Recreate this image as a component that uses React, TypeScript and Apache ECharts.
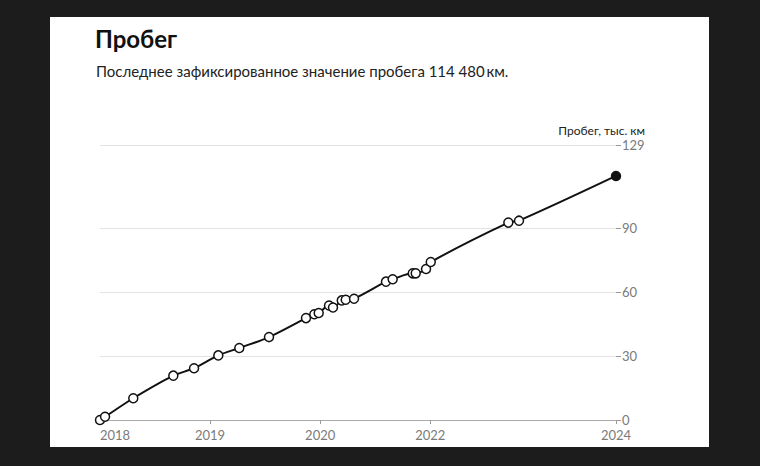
import React, { useEffect, useRef } from "react";
import * as echarts from "echarts";

const titleText = "Пробег";
const subtitleText = "Последнее зафиксированное значение пробега 114\u202F480\u2009км.";
const yAxisName = "Пробег, тыс. км";

// decimal-year positions of the readings
const readingYears = [
  2018.0, 2018.061, 2018.403, 2018.888, 2019.139, 2019.433, 2019.687, 2020.047,
  2020.495, 2020.596, 2020.649, 2020.774, 2020.822, 2020.928, 2020.976, 2021.077,
  2021.464, 2021.545, 2021.788, 2021.824, 2021.949, 2022.006, 2022.946, 2023.075,
  2024.25,
];
// mileage, thousand km
const mileage = [
  0.0, 1.5, 10.2, 20.8, 24.3, 30.3, 33.8, 38.9,
  47.8, 49.6, 50.2, 53.7, 52.8, 56.1, 56.4, 56.9,
  64.9, 66.0, 68.8, 68.8, 70.8, 74.1, 92.6, 93.5,
  114.48,
];

const xTickValues = [2018, 2019.333, 2020.667, 2022, 2024.25];
const xTickLabels = ["2018", "2019", "2020", "2022", "2024"];
const yTickValues = [0, 30, 60, 90, 129];

const FONT = "Lato, 'Noto Sans', sans-serif";

export default function App() {
  const ref = useRef<HTMLDivElement>(null);
  useEffect(() => {
    document.body.style.margin = "0";
    const chart = echarts.init(ref.current!, null, { renderer: "svg" });
    const last = readingYears.length - 1;
    const data = readingYears.map((x, i) =>
      i === last
        ? { value: [x, mileage[i]], itemStyle: { color: "#111", borderColor: "#111" } }
        : { value: [x, mileage[i]] }
    );
    chart.setOption({
      animation: false,
      textStyle: { fontFamily: FONT },
      title: [
        {
          text: titleText,
          left: 45,
          top: 9,
          padding: 0,
          textStyle: { fontFamily: FONT, fontSize: 24, fontWeight: "bold", color: "#111" },
        },
        {
          text: subtitleText,
          left: 46,
          top: 46,
          padding: 0,
          textStyle: { fontFamily: FONT, fontSize: 15, fontWeight: "normal", color: "#222" },
        },
      ],
      graphic: [
        {
          type: "text",
          right: 64,
          top: 107,
          style: { text: yAxisName, fontFamily: FONT, fontSize: 12, lineHeight: 13, fill: "#222" },
        },
      ],
      grid: { left: 50, right: 93, top: 128, bottom: 27, containLabel: false },
      xAxis: {
        type: "value",
        min: 2018,
        max: 2024.25,
        splitLine: { show: false },
        axisLine: { show: true, lineStyle: { color: "#aaa", width: 1 } },
        axisTick: { show: true, length: 4, customValues: xTickValues, lineStyle: { color: "#999" } },
        axisLabel: {
          customValues: xTickValues,
          color: "#7a7a7a",
          fontSize: 13,
          lineHeight: 11,
          fontFamily: FONT,
          margin: 9,
          alignMinLabel: "left",
          formatter: (v: number) => {
            const i = xTickValues.findIndex((t) => Math.abs(t - v) < 1e-6);
            return i >= 0 ? xTickLabels[i] : "";
          },
        },
      },
      yAxis: {
        type: "value",
        position: "right",
        min: 0,
        max: 129,
        axisLine: { show: false },
        axisTick: { show: true, length: 5, customValues: yTickValues, lineStyle: { color: "#999" } },
        axisLabel: {
          customValues: yTickValues,
          color: "#7a7a7a",
          fontSize: 13,
          lineHeight: 10,
          fontFamily: FONT,
          margin: 6,
          padding: [0, 0, 3, 0],
        },
        splitLine: { show: true, lineStyle: { color: "#e2e2e2", width: 1 } },
      },
      series: [
        {
          type: "line",
          data,
          smooth: 0.3,
          symbol: "circle",
          symbolSize: 9,
          showAllSymbol: true,
          lineStyle: { color: "#111", width: 2 },
          itemStyle: { color: "#fff", borderColor: "#111", borderWidth: 1.5 },
          z: 3,
        },
      ],
    });
    return () => chart.dispose();
  }, []);
  return (
    <div style={{ position: "fixed", left: 0, top: 0, width: 760, height: 466, background: "#1c1c1c" }}>
      <div style={{ position: "absolute", left: 50, top: 17, width: 659, height: 430, background: "#fff" }}>
        <div ref={ref} style={{ width: 659, height: 430 }} />
      </div>
    </div>
  );
}
